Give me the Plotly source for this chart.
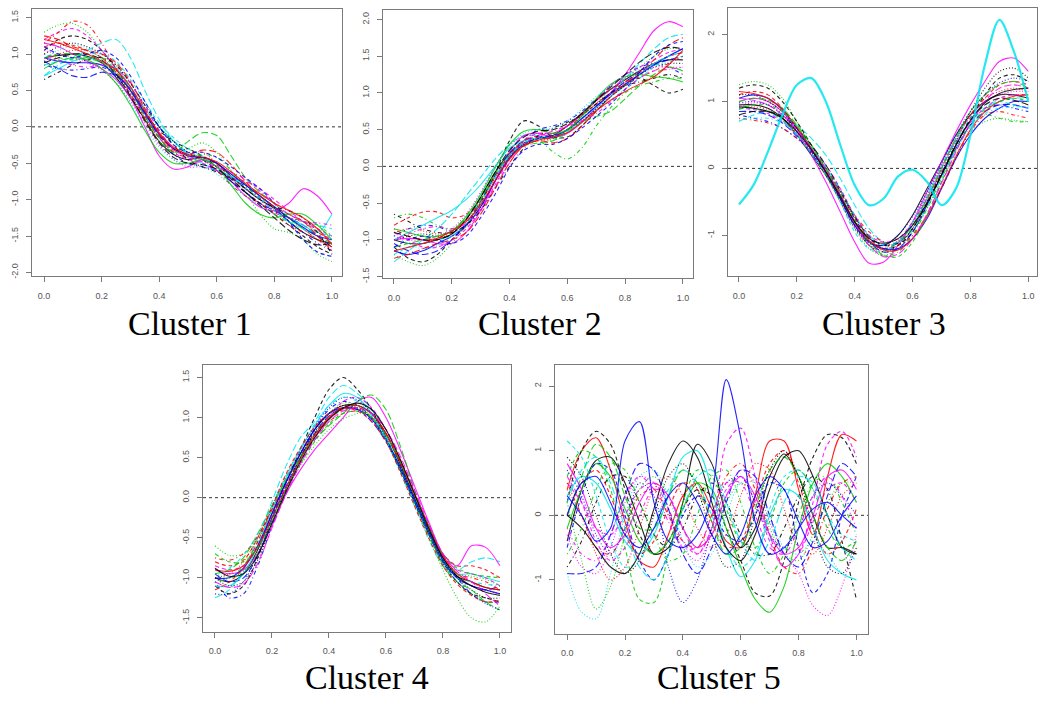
import plotly.graph_objects as go

# common x grid (t in [0, 1])
X = [0.00, 0.05, 0.10, 0.15, 0.20, 0.25, 0.30, 0.35, 0.40, 0.45, 0.50,
     0.55, 0.60, 0.65, 0.70, 0.75, 0.80, 0.85, 0.90, 0.95, 1.00]

x_ticks = [0.0, 0.2, 0.4, 0.6, 0.8, 1.0]
x_tick_labels = ["0.0", "0.2", "0.4", "0.6", "0.8", "1.0"]

captions = ["Cluster 1", "Cluster 2", "Cluster 3", "Cluster 4", "Cluster 5"]

# ---------------- Cluster 1 ----------------
cluster1 = [
    [0.95, 0.98, 1.00, 0.97, 0.88, 0.68, 0.40, 0.10, -0.20, -0.38, -0.45, -0.42, -0.50, -0.68, -0.85, -1.00, -1.12, -1.30, -1.45, -1.55, -1.60],
    [1.10, 1.15, 1.12, 1.05, 0.95, 0.75, 0.50, 0.20, -0.10, -0.30, -0.38, -0.40, -0.52, -0.70, -0.90, -1.05, -1.18, -1.25, -1.30, -1.45, -1.55],
    [1.30, 1.40, 1.42, 1.30, 1.05, 0.75, 0.42, 0.10, -0.20, -0.35, -0.30, -0.22, -0.35, -0.60, -0.90, -1.20, -1.40, -1.45, -1.55, -1.75, -1.85],
    [0.85, 0.80, 0.78, 0.80, 0.82, 0.70, 0.45, 0.15, -0.15, -0.38, -0.50, -0.55, -0.60, -0.70, -0.82, -0.98, -1.15, -1.30, -1.45, -1.60, -1.70],
    [0.70, 0.85, 0.95, 1.05, 1.15, 1.20, 0.95, 0.50, 0.10, -0.20, -0.35, -0.42, -0.55, -0.70, -0.80, -0.95, -1.10, -1.20, -1.30, -1.35, -1.40],
    [1.15, 1.10, 1.00, 0.90, 0.80, 0.65, 0.40, 0.00, -0.40, -0.58, -0.55, -0.45, -0.55, -0.75, -0.95, -1.10, -1.15, -1.05, -0.85, -0.95, -1.20],
    [1.05, 1.20, 1.25, 1.20, 1.05, 0.80, 0.50, 0.20, -0.05, -0.20, -0.30, -0.40, -0.55, -0.75, -0.90, -1.05, -1.20, -1.35, -1.50, -1.65, -1.75],
    [0.90, 1.00, 1.05, 1.05, 0.95, 0.75, 0.45, 0.12, -0.15, -0.30, -0.35, -0.35, -0.50, -0.65, -0.80, -0.95, -1.10, -1.25, -1.40, -1.55, -1.70],
    [1.00, 0.95, 0.92, 0.95, 0.95, 0.82, 0.55, 0.20, -0.12, -0.32, -0.40, -0.38, -0.42, -0.60, -0.80, -1.00, -1.20, -1.30, -1.30, -1.35, -1.50],
    [0.90, 0.80, 0.70, 0.68, 0.75, 0.70, 0.52, 0.20, -0.12, -0.30, -0.38, -0.45, -0.60, -0.75, -0.90, -1.05, -1.15, -1.25, -1.35, -1.50, -1.65],
    [0.70, 0.80, 0.90, 0.95, 0.90, 0.80, 0.55, 0.25, 0.00, -0.20, -0.38, -0.50, -0.60, -0.68, -0.80, -0.95, -1.10, -1.25, -1.35, -1.45, -1.20],
    [1.20, 1.30, 1.35, 1.25, 1.05, 0.80, 0.50, 0.15, -0.15, -0.35, -0.45, -0.50, -0.60, -0.70, -0.75, -0.85, -1.00, -1.15, -1.30, -1.40, -1.50],
    [1.00, 1.10, 1.15, 1.10, 1.00, 0.85, 0.60, 0.30, 0.00, -0.20, -0.35, -0.45, -0.55, -0.65, -0.80, -0.95, -1.10, -1.25, -1.40, -1.55, -1.65],
    [1.15, 1.30, 1.45, 1.40, 1.15, 0.80, 0.45, 0.12, -0.15, -0.35, -0.42, -0.45, -0.60, -0.80, -0.95, -1.05, -1.20, -1.35, -1.45, -1.55, -1.65],
    [0.95, 1.00, 1.00, 0.95, 0.88, 0.75, 0.50, 0.15, -0.15, -0.35, -0.20, -0.08, -0.12, -0.40, -0.70, -0.90, -1.05, -1.25, -1.40, -1.50, -1.60],
    [0.95, 0.90, 0.88, 0.88, 0.85, 0.72, 0.50, 0.18, -0.10, -0.30, -0.40, -0.42, -0.50, -0.65, -0.80, -0.95, -1.10, -1.25, -1.38, -1.50, -1.55],
    [0.85, 0.90, 0.95, 1.00, 1.00, 0.90, 0.65, 0.35, 0.05, -0.15, -0.30, -0.40, -0.55, -0.70, -0.85, -0.98, -1.15, -1.30, -1.40, -1.45, -1.50],
    [1.05, 1.00, 0.95, 0.88, 0.78, 0.60, 0.35, 0.05, -0.25, -0.45, -0.55, -0.55, -0.60, -0.70, -0.85, -1.00, -1.15, -1.25, -1.30, -1.40, -1.60],
    [0.65, 0.75, 0.85, 0.92, 0.95, 0.85, 0.60, 0.30, 0.00, -0.25, -0.45, -0.55, -0.62, -0.70, -0.85, -1.00, -1.10, -1.15, -1.25, -1.45, -1.75],
    [1.25, 1.20, 1.10, 1.05, 1.00, 0.88, 0.62, 0.25, -0.10, -0.32, -0.38, -0.32, -0.35, -0.52, -0.75, -0.95, -1.10, -1.20, -1.30, -1.50, -1.70],
    [0.80, 0.90, 0.95, 0.92, 0.80, 0.60, 0.30, -0.05, -0.35, -0.50, -0.50, -0.45, -0.55, -0.80, -1.05, -1.20, -1.25, -1.20, -1.20, -1.35, -1.55],
    [1.10, 1.00, 0.95, 1.00, 1.05, 0.95, 0.70, 0.35, 0.00, -0.25, -0.35, -0.35, -0.42, -0.55, -0.70, -0.85, -1.05, -1.30, -1.55, -1.72, -1.78],
    [0.95, 1.05, 1.12, 1.08, 0.92, 0.65, 0.32, 0.00, -0.28, -0.45, -0.52, -0.55, -0.65, -0.80, -0.95, -1.08, -1.20, -1.30, -1.35, -1.42, -1.55],
    [1.00, 0.92, 0.85, 0.82, 0.85, 0.80, 0.60, 0.28, -0.05, -0.30, -0.42, -0.48, -0.55, -0.62, -0.72, -0.88, -1.05, -1.20, -1.30, -1.32, -1.35],
    [0.88, 0.95, 1.00, 1.00, 0.92, 0.72, 0.42, 0.08, -0.22, -0.42, -0.50, -0.52, -0.58, -0.72, -0.90, -1.08, -1.25, -1.42, -1.55, -1.62, -1.60],
    [1.20, 1.15, 1.08, 1.00, 0.90, 0.78, 0.55, 0.22, -0.08, -0.28, -0.38, -0.42, -0.48, -0.62, -0.78, -0.92, -1.05, -1.15, -1.25, -1.40, -1.62],
]
cluster1_styles = ["k-", "r--", "g:", "b-.", "c__", "m-", "k--", "r:", "g-.", "b__",
                   "c-", "m--", "k:", "r-.", "g__", "b-", "c--", "m:", "k-.", "r__",
                   "g-", "b--", "c:", "m-.", "k__", "r-"]

# ---------------- Cluster 2 ----------------
cluster2 = [
    [-1.00, -1.05, -1.05, -1.00, -0.92, -0.72, -0.42, -0.08, 0.18, 0.32, 0.38, 0.42, 0.55, 0.72, 0.90, 1.05, 1.18, 1.30, 1.40, 1.45, 1.45],
    [-0.80, -0.70, -0.62, -0.62, -0.70, -0.65, -0.45, -0.12, 0.15, 0.35, 0.42, 0.45, 0.55, 0.70, 0.85, 1.00, 1.12, 1.25, 1.40, 1.50, 1.55],
    [-1.20, -1.30, -1.35, -1.25, -1.05, -0.80, -0.45, -0.10, 0.20, 0.35, 0.38, 0.35, 0.45, 0.65, 0.85, 1.05, 1.20, 1.35, 1.50, 1.60, 1.60],
    [-0.95, -0.85, -0.80, -0.82, -0.88, -0.80, -0.55, -0.20, 0.10, 0.35, 0.50, 0.55, 0.62, 0.75, 0.92, 1.10, 1.25, 1.35, 1.40, 1.35, 1.25],
    [-1.30, -1.15, -1.00, -0.85, -0.65, -0.40, -0.15, 0.10, 0.30, 0.42, 0.42, 0.38, 0.45, 0.60, 0.80, 1.00, 1.20, 1.40, 1.60, 1.75, 1.80],
    [-1.00, -0.98, -1.00, -1.05, -1.05, -0.90, -0.60, -0.20, 0.20, 0.42, 0.45, 0.40, 0.45, 0.60, 0.80, 1.00, 1.25, 1.55, 1.85, 1.97, 1.90],
    [-1.10, -1.25, -1.30, -1.20, -1.00, -0.80, -0.50, -0.10, 0.35, 0.62, 0.55, 0.40, 0.40, 0.55, 0.75, 0.95, 1.10, 1.20, 1.10, 1.00, 1.05],
    [-0.90, -0.85, -0.88, -0.92, -0.90, -0.75, -0.50, -0.15, 0.15, 0.30, 0.35, 0.38, 0.50, 0.68, 0.85, 1.00, 1.15, 1.28, 1.40, 1.50, 1.55],
    [-0.70, -0.65, -0.70, -0.80, -0.85, -0.70, -0.45, -0.15, 0.12, 0.30, 0.35, 0.20, 0.10, 0.25, 0.55, 0.80, 1.00, 1.10, 1.15, 1.20, 1.20],
    [-1.05, -1.15, -1.20, -1.15, -1.00, -0.78, -0.48, -0.12, 0.18, 0.35, 0.40, 0.42, 0.50, 0.65, 0.82, 1.00, 1.15, 1.28, 1.38, 1.45, 1.50],
    [-1.00, -0.90, -0.80, -0.70, -0.60, -0.45, -0.25, 0.00, 0.25, 0.35, 0.38, 0.40, 0.50, 0.65, 0.80, 0.95, 1.10, 1.25, 1.40, 1.50, 1.60],
    [-0.90, -1.00, -1.10, -1.10, -1.00, -0.85, -0.60, -0.25, 0.10, 0.35, 0.45, 0.45, 0.55, 0.70, 0.90, 1.10, 1.25, 1.35, 1.45, 1.55, 1.60],
    [-1.00, -0.95, -0.92, -0.95, -0.95, -0.82, -0.55, -0.20, 0.12, 0.30, 0.38, 0.40, 0.50, 0.62, 0.78, 0.95, 1.10, 1.25, 1.35, 1.40, 1.40],
    [-0.85, -0.95, -1.00, -0.98, -0.90, -0.72, -0.48, -0.15, 0.15, 0.35, 0.40, 0.38, 0.50, 0.70, 0.90, 1.05, 1.15, 1.22, 1.30, 1.40, 1.50],
    [-1.10, -1.05, -1.00, -0.95, -0.88, -0.70, -0.45, -0.10, 0.15, 0.28, 0.32, 0.35, 0.48, 0.60, 0.68, 0.75, 0.92, 1.10, 1.25, 1.35, 1.30],
    [-1.15, -1.20, -1.15, -1.05, -0.95, -0.80, -0.55, -0.20, 0.12, 0.30, 0.38, 0.40, 0.50, 0.65, 0.82, 0.98, 1.12, 1.25, 1.38, 1.50, 1.60],
    [-1.20, -1.10, -1.05, -1.00, -0.95, -0.78, -0.50, -0.15, 0.15, 0.32, 0.38, 0.40, 0.48, 0.60, 0.75, 0.90, 1.05, 1.20, 1.35, 1.50, 1.55],
    [-0.95, -1.00, -1.00, -0.95, -0.85, -0.65, -0.35, 0.00, 0.28, 0.42, 0.45, 0.45, 0.55, 0.70, 0.88, 1.05, 1.20, 1.30, 1.35, 1.35, 1.35],
    [-0.65, -0.75, -0.85, -0.90, -0.90, -0.80, -0.60, -0.30, 0.00, 0.25, 0.42, 0.52, 0.60, 0.70, 0.85, 1.00, 1.10, 1.15, 1.20, 1.25, 1.20],
    [-1.25, -1.20, -1.12, -1.05, -1.00, -0.90, -0.65, -0.30, 0.05, 0.28, 0.35, 0.32, 0.38, 0.55, 0.75, 0.95, 1.12, 1.28, 1.45, 1.65, 1.75],
    [-0.85, -0.90, -0.95, -0.95, -0.88, -0.68, -0.38, -0.02, 0.30, 0.48, 0.50, 0.45, 0.50, 0.68, 0.92, 1.12, 1.22, 1.25, 1.22, 1.20, 1.15],
    [-1.10, -1.00, -0.95, -1.00, -1.05, -0.95, -0.70, -0.38, -0.02, 0.22, 0.30, 0.30, 0.38, 0.52, 0.68, 0.85, 1.05, 1.28, 1.50, 1.65, 1.70],
    [-0.95, -1.05, -1.12, -1.08, -0.95, -0.70, -0.38, -0.02, 0.28, 0.45, 0.50, 0.52, 0.62, 0.78, 0.95, 1.10, 1.22, 1.32, 1.38, 1.42, 1.50],
    [-1.00, -0.92, -0.85, -0.82, -0.85, -0.78, -0.58, -0.28, 0.05, 0.30, 0.42, 0.48, 0.55, 0.62, 0.72, 0.88, 1.05, 1.20, 1.30, 1.32, 1.35],
    [-0.90, -0.95, -1.00, -1.00, -0.92, -0.72, -0.42, -0.08, 0.22, 0.40, 0.48, 0.50, 0.58, 0.72, 0.90, 1.08, 1.25, 1.42, 1.55, 1.62, 1.60],
    [-1.15, -1.10, -1.05, -0.98, -0.88, -0.75, -0.52, -0.20, 0.10, 0.28, 0.36, 0.40, 0.46, 0.60, 0.76, 0.90, 1.02, 1.12, 1.22, 1.38, 1.58],
]
cluster2_styles = ["k-", "r--", "g:", "b-.", "c__", "m-", "k--", "r:", "g-.", "b__",
                   "c-", "m--", "k:", "r-.", "g__", "b-", "c--", "m:", "k-.", "r__",
                   "g-", "b--", "c:", "m-.", "k__", "r-"]

# ---------------- Cluster 3 ----------------
cluster3 = [
    [0.95, 0.95, 0.90, 0.75, 0.50, 0.20, -0.10, -0.45, -0.85, -1.10, -1.15, -1.00, -0.70, -0.30, 0.10, 0.50, 0.80, 1.00, 1.10, 1.10, 1.05],
    [1.10, 1.15, 1.10, 0.90, 0.60, 0.30, 0.00, -0.35, -0.75, -1.05, -1.20, -1.15, -0.90, -0.50, 0.00, 0.45, 0.80, 1.05, 1.25, 1.30, 1.25],
    [1.25, 1.30, 1.25, 1.05, 0.70, 0.30, -0.10, -0.50, -0.90, -1.20, -1.30, -1.20, -0.95, -0.60, -0.20, 0.20, 0.55, 0.70, 0.75, 0.72, 0.70],
    [0.80, 0.75, 0.70, 0.60, 0.45, 0.25, 0.00, -0.35, -0.75, -1.05, -1.15, -1.10, -0.85, -0.50, -0.10, 0.35, 0.70, 0.90, 0.95, 0.90, 0.85],
    [0.70, 0.80, 0.85, 0.80, 0.65, 0.45, 0.20, -0.15, -0.55, -0.90, -1.10, -1.10, -0.85, -0.45, 0.00, 0.40, 0.70, 0.90, 1.00, 1.05, 1.05],
    [1.00, 1.05, 1.00, 0.85, 0.55, 0.20, -0.20, -0.65, -1.10, -1.42, -1.40, -1.15, -0.80, -0.35, 0.10, 0.55, 0.95, 1.30, 1.60, 1.65, 1.45],
    [1.20, 1.25, 1.20, 1.00, 0.70, 0.35, 0.00, -0.40, -0.80, -1.10, -1.20, -1.15, -0.95, -0.55, -0.10, 0.35, 0.75, 1.10, 1.35, 1.40, 1.30],
    [0.90, 0.92, 0.88, 0.75, 0.52, 0.22, -0.10, -0.50, -0.90, -1.15, -1.22, -1.10, -0.80, -0.40, 0.05, 0.45, 0.80, 1.05, 1.15, 1.20, 1.15],
    [0.95, 0.90, 0.85, 0.72, 0.50, 0.22, -0.08, -0.45, -0.85, -1.15, -1.30, -1.25, -1.00, -0.60, -0.15, 0.30, 0.65, 0.80, 0.75, 0.70, 0.70],
    [0.85, 0.85, 0.80, 0.68, 0.48, 0.22, -0.05, -0.40, -0.80, -1.10, -1.25, -1.20, -0.95, -0.55, -0.10, 0.30, 0.65, 0.85, 0.95, 0.95, 0.90],
    [0.90, 0.88, 0.82, 0.70, 0.50, 0.28, 0.05, -0.30, -0.70, -1.00, -1.10, -1.05, -0.80, -0.45, -0.05, 0.35, 0.70, 0.90, 1.05, 1.10, 1.10],
    [1.10, 1.10, 1.00, 0.85, 0.60, 0.30, -0.05, -0.45, -0.85, -1.15, -1.25, -1.15, -0.90, -0.50, -0.05, 0.40, 0.85, 1.20, 1.45, 1.50, 1.35],
    [0.75, 0.72, 0.68, 0.60, 0.45, 0.25, 0.00, -0.35, -0.70, -0.95, -1.10, -1.15, -1.00, -0.70, -0.30, 0.15, 0.55, 0.80, 0.85, 0.80, 0.75],
    [1.00, 1.05, 1.02, 0.90, 0.65, 0.35, 0.00, -0.40, -0.80, -1.10, -1.20, -1.10, -0.85, -0.45, 0.00, 0.45, 0.85, 1.10, 1.25, 1.30, 1.20],
    [1.05, 1.10, 1.05, 0.88, 0.60, 0.28, -0.05, -0.45, -0.85, -1.10, -1.20, -1.20, -1.05, -0.75, -0.30, 0.15, 0.50, 0.75, 0.90, 1.00, 1.00],
    [0.90, 0.90, 0.85, 0.72, 0.50, 0.22, -0.10, -0.50, -0.95, -1.20, -1.25, -1.10, -0.80, -0.40, 0.05, 0.45, 0.75, 0.95, 1.00, 0.95, 0.90],
    [0.95, 0.98, 0.95, 0.82, 0.58, 0.28, -0.05, -0.42, -0.82, -1.10, -1.18, -1.08, -0.82, -0.42, 0.02, 0.42, 0.78, 1.00, 1.10, 1.15, 1.15],
    [0.80, 0.85, 0.85, 0.78, 0.60, 0.35, 0.05, -0.32, -0.72, -1.02, -1.15, -1.12, -0.90, -0.52, -0.08, 0.35, 0.72, 0.95, 1.05, 1.02, 0.95],
    [1.15, 1.12, 1.05, 0.88, 0.62, 0.30, -0.05, -0.42, -0.80, -1.08, -1.22, -1.22, -1.05, -0.72, -0.28, 0.18, 0.58, 0.85, 1.00, 1.08, 1.10],
    [0.88, 0.95, 0.95, 0.85, 0.62, 0.32, 0.00, -0.38, -0.78, -1.10, -1.30, -1.32, -1.10, -0.70, -0.20, 0.28, 0.65, 0.88, 1.00, 1.05, 1.00],
    [0.98, 1.00, 0.95, 0.80, 0.55, 0.25, -0.08, -0.48, -0.88, -1.12, -1.15, -1.00, -0.72, -0.35, 0.08, 0.50, 0.85, 1.10, 1.28, 1.35, 1.30],
    [0.72, 0.75, 0.75, 0.68, 0.52, 0.30, 0.02, -0.32, -0.70, -1.00, -1.15, -1.12, -0.92, -0.58, -0.15, 0.28, 0.62, 0.82, 0.90, 0.92, 0.92],
    [1.05, 1.02, 0.95, 0.80, 0.58, 0.30, -0.02, -0.40, -0.82, -1.15, -1.32, -1.28, -1.05, -0.68, -0.22, 0.25, 0.68, 1.00, 1.20, 1.25, 1.20],
    [0.92, 0.90, 0.85, 0.75, 0.55, 0.28, -0.05, -0.42, -0.80, -1.05, -1.12, -1.05, -0.85, -0.52, -0.10, 0.35, 0.72, 0.98, 1.12, 1.18, 1.20],
    # outlying curve
    [-0.54, -0.25, 0.25, 0.80, 1.25, 1.35, 1.00, 0.35, -0.25, -0.55, -0.45, -0.12, -0.02, -0.20, -0.55, -0.30, 0.50, 1.55, 2.22, 1.75, 1.00],
]
cluster3_styles = ["k-", "r--", "g:", "b-.", "c__", "m-", "k--", "r:", "g-.", "b__",
                   "m--", "k:", "r-.", "g__", "b-", "c--", "m:", "k__", "r-", "g--",
                   "b:", "c-.", "m__", "k-", "c-"]

# ---------------- Cluster 4 ----------------
cluster4 = [
    [-1.00, -1.05, -0.95, -0.65, -0.20, 0.20, 0.55, 0.85, 1.05, 1.15, 1.15, 1.05, 0.80, 0.42, 0.00, -0.40, -0.75, -0.98, -1.05, -1.12, -1.15],
    [-0.80, -0.85, -0.78, -0.50, -0.12, 0.25, 0.55, 0.80, 0.98, 1.10, 1.12, 1.05, 0.80, 0.45, 0.05, -0.35, -0.70, -0.85, -0.85, -0.90, -1.00],
    [-0.60, -0.72, -0.70, -0.50, -0.20, 0.10, 0.40, 0.65, 0.85, 0.98, 1.05, 1.05, 0.85, 0.45, -0.05, -0.50, -0.90, -1.25, -1.50, -1.55, -1.35],
    [-1.05, -1.25, -1.20, -0.85, -0.35, 0.10, 0.50, 0.85, 1.10, 1.20, 1.15, 1.00, 0.75, 0.40, 0.00, -0.40, -0.75, -1.00, -1.20, -1.30, -1.30],
    [-1.25, -1.15, -0.90, -0.50, -0.05, 0.40, 0.75, 0.95, 1.25, 1.40, 1.30, 1.10, 0.75, 0.35, -0.05, -0.45, -0.80, -0.90, -0.80, -0.75, -0.80],
    [-0.90, -0.95, -0.90, -0.70, -0.35, 0.05, 0.35, 0.60, 0.80, 1.00, 1.20, 1.25, 1.00, 0.60, 0.15, -0.30, -0.70, -0.85, -0.60, -0.62, -0.85],
    [-1.10, -1.20, -1.10, -0.75, -0.25, 0.20, 0.60, 1.00, 1.35, 1.50, 1.35, 1.10, 0.75, 0.35, -0.05, -0.45, -0.80, -1.05, -1.20, -1.25, -1.30],
    [-1.00, -0.95, -0.80, -0.50, -0.10, 0.28, 0.60, 0.88, 1.05, 1.15, 1.12, 1.00, 0.78, 0.42, 0.02, -0.38, -0.72, -0.95, -1.05, -1.15, -1.20],
    [-1.05, -1.00, -0.85, -0.55, -0.15, 0.22, 0.52, 0.78, 0.98, 1.10, 1.10, 1.00, 0.72, 0.35, -0.08, -0.48, -0.82, -1.05, -1.20, -1.30, -1.30],
    [-0.95, -1.05, -1.00, -0.72, -0.28, 0.15, 0.50, 0.80, 1.02, 1.12, 1.10, 0.95, 0.70, 0.35, -0.05, -0.45, -0.80, -1.00, -1.10, -1.15, -1.10],
    [-1.10, -1.10, -0.95, -0.60, -0.15, 0.25, 0.60, 0.90, 1.15, 1.30, 1.25, 1.05, 0.75, 0.38, -0.02, -0.42, -0.78, -0.95, -0.95, -1.00, -1.05],
    [-0.85, -0.90, -0.85, -0.60, -0.20, 0.15, 0.45, 0.75, 1.00, 1.20, 1.25, 1.12, 0.85, 0.48, 0.08, -0.35, -0.72, -0.90, -0.95, -1.00, -1.10],
    [-1.00, -1.10, -1.05, -0.78, -0.32, 0.12, 0.50, 0.82, 1.05, 1.15, 1.12, 0.98, 0.72, 0.38, -0.02, -0.42, -0.78, -1.00, -1.15, -1.25, -1.25],
    [-0.75, -0.78, -0.70, -0.48, -0.15, 0.20, 0.50, 0.75, 0.95, 1.05, 1.08, 1.00, 0.80, 0.45, 0.05, -0.38, -0.75, -0.95, -1.00, -1.05, -1.15],
    [-0.95, -0.90, -0.75, -0.45, -0.10, 0.22, 0.50, 0.72, 0.90, 1.05, 1.20, 1.28, 1.10, 0.65, 0.10, -0.40, -0.85, -1.05, -1.15, -1.30, -1.40],
    [-1.00, -1.00, -0.88, -0.60, -0.20, 0.20, 0.55, 0.85, 1.05, 1.12, 1.10, 0.98, 0.72, 0.38, -0.02, -0.42, -0.78, -1.00, -1.10, -1.15, -1.20],
    [-0.90, -0.92, -0.85, -0.62, -0.25, 0.12, 0.48, 0.78, 1.00, 1.12, 1.15, 1.05, 0.80, 0.45, 0.05, -0.35, -0.72, -0.95, -1.05, -1.12, -1.15],
    [-0.70, -0.80, -0.80, -0.62, -0.30, 0.08, 0.42, 0.70, 0.92, 1.05, 1.08, 1.00, 0.78, 0.45, 0.05, -0.35, -0.70, -0.88, -0.95, -0.98, -1.00],
    [-1.20, -1.20, -1.05, -0.70, -0.25, 0.18, 0.55, 0.88, 1.12, 1.25, 1.22, 1.05, 0.75, 0.35, -0.05, -0.45, -0.82, -1.05, -1.20, -1.32, -1.40],
    [-0.95, -0.88, -0.72, -0.45, -0.10, 0.28, 0.62, 0.92, 1.15, 1.25, 1.20, 1.02, 0.72, 0.32, -0.10, -0.52, -0.85, -1.00, -1.05, -1.08, -1.10],
    [-1.05, -1.12, -1.08, -0.82, -0.38, 0.05, 0.42, 0.72, 0.95, 1.08, 1.12, 1.05, 0.85, 0.52, 0.10, -0.32, -0.70, -0.92, -1.05, -1.20, -1.35],
    [-0.88, -0.98, -0.95, -0.72, -0.32, 0.08, 0.45, 0.75, 0.98, 1.12, 1.18, 1.10, 0.85, 0.48, 0.05, -0.38, -0.75, -0.98, -1.10, -1.18, -1.22],
    [-1.15, -1.05, -0.88, -0.55, -0.12, 0.30, 0.62, 0.88, 1.05, 1.12, 1.08, 0.95, 0.70, 0.32, -0.10, -0.50, -0.85, -1.08, -1.22, -1.30, -1.28],
    [-0.95, -1.00, -0.92, -0.68, -0.28, 0.12, 0.48, 0.80, 1.05, 1.18, 1.15, 1.00, 0.72, 0.35, -0.05, -0.45, -0.80, -0.95, -0.98, -1.02, -1.10],
]
cluster4_styles = ["k-", "r--", "g:", "b-.", "c__", "m-", "k--", "r:", "g-.", "b__",
                   "c-", "m--", "k:", "r-.", "g__", "b-", "r-", "g--", "b:", "c-.",
                   "m__", "k-", "r--", "g:"]

# ---------------- Cluster 5 ----------------
cluster5 = [
    [0.60, 0.20, -0.40, -0.70, -0.50, 0.00, 0.40, 0.30, -0.20, -0.60, -0.20, 1.10, 1.35, 0.60, -0.30, -0.80, -0.60, -0.10, 0.40, 0.50, 0.20],
    [0.40, 1.00, 1.20, 0.70, -0.10, -0.70, -0.80, -0.30, 0.30, 0.50, 0.10, -0.40, -0.50, 0.30, 1.15, 1.15, 0.40, -0.30, 0.60, 1.25, 1.15],
    [0.20, 1.00, 1.30, 1.10, 0.40, -0.30, -0.60, -0.40, 0.10, 0.40, 0.30, -0.20, -0.70, -1.20, -1.25, -0.70, 0.20, 0.90, 1.25, 1.20, 0.80],
    [-0.40, 0.40, 0.85, 0.90, 0.50, -0.10, -0.60, -0.50, 0.20, 1.10, 0.80, 0.00, -0.50, -0.20, 0.60, 0.95, 0.60, 0.00, -0.50, -0.50, -0.60],
    [-0.20, 0.40, 0.80, 0.60, 0.10, -0.40, -0.60, -0.40, 0.10, 0.50, 0.40, -0.20, -0.80, -1.30, -1.50, -1.10, -0.20, 0.50, 0.80, 0.60, 0.20],
    [0.60, 1.00, 0.90, 0.40, -0.50, -1.30, -1.35, -0.60, 0.20, 0.70, 0.60, 0.10, -0.40, -0.50, -0.10, 0.50, 0.70, 0.40, -0.20, -0.50, -0.40],
    [-0.90, -1.50, -1.60, -0.90, 0.00, 0.60, 0.70, 0.30, -0.40, -0.80, -0.60, 0.00, 0.50, 0.50, 0.00, -0.50, -0.60, -0.40, -0.60, -0.90, -1.00],
    [1.15, 0.90, 0.30, -0.40, -0.80, -0.70, -0.20, 0.40, 0.70, 0.50, 0.00, -0.50, -0.80, -0.60, 0.10, 0.60, 0.70, 0.40, 0.00, -0.30, -0.40],
    [0.50, 0.20, -0.20, -0.30, 0.00, 0.40, 0.50, 0.10, -0.40, -0.60, -0.20, 0.40, 0.60, 0.20, -0.40, -0.80, -0.60, 0.20, 1.10, 1.30, 0.90],
    [-0.30, -0.80, -0.90, -0.50, 0.20, 0.60, 0.50, 0.00, -0.50, -0.70, -0.30, 0.30, 0.70, 0.50, -0.10, -0.60, -0.90, -1.40, -1.55, -1.10, -0.30],
    [0.70, 0.30, -0.30, -0.60, -0.20, 0.50, 0.30, -0.80, -1.35, -1.00, -0.20, 0.50, 0.60, 0.20, -0.30, -0.50, -0.20, 0.30, 0.50, 0.30, 0.00],
    [0.00, 0.50, 0.70, 0.30, -0.30, -0.60, -0.40, 0.10, 0.50, 0.40, -0.10, -0.50, -0.40, 0.20, 0.80, 1.00, 0.50, -0.20, -0.60, -0.40, 0.10],
    [-0.80, -0.40, 0.20, 0.60, 0.60, 0.20, -0.30, -0.50, -0.20, 0.30, 0.50, 0.20, -0.30, -0.60, -0.60, -0.20, 0.30, 0.60, 0.40, -0.40, -1.30],
    [0.20, -0.70, -1.45, -1.10, -0.30, 0.40, 0.60, 0.30, -0.20, -0.50, -0.30, 0.20, 0.50, 0.30, -0.20, -0.60, -0.70, -0.30, 0.20, 0.50, 0.50],
    [-0.90, -0.90, -0.80, -0.30, 0.30, 0.80, 0.70, 0.10, -0.60, -0.90, -0.50, 0.20, 0.70, 0.60, 0.00, -0.60, -0.80, -0.40, 0.30, 0.80, 0.60],
    [0.50, 0.00, -0.50, -0.60, -0.20, 0.30, 0.40, 0.00, -0.40, -0.50, 0.00, 0.60, 0.80, 0.40, -0.30, -0.80, -0.90, -0.50, 0.10, 0.50, 0.60],
    [0.30, 0.60, 0.50, 0.10, -0.40, -0.60, -0.30, 0.30, 0.90, 1.00, 0.40, -0.50, -0.95, -0.70, 0.00, 0.40, 0.30, -0.20, -0.70, -0.90, -1.00],
    [0.00, 0.60, 1.10, 0.90, 0.30, -0.20, -0.20, 0.30, 0.70, 0.50, -0.10, -0.60, -0.50, 0.10, 0.70, 0.90, 0.60, 0.00, -0.50, -0.70, -0.40],
    [0.00, -0.20, -0.50, -0.80, -0.90, -0.60, 0.10, 0.80, 1.15, 0.90, 0.20, -0.50, -0.70, -0.30, 0.40, 0.90, 1.00, 0.60, 0.00, -0.50, -0.60],
    [0.80, 0.40, -0.20, -0.50, -0.30, 0.20, 0.50, 0.30, -0.20, -0.50, -0.30, 0.30, 0.60, 0.30, -0.30, -0.60, -0.50, 0.00, 0.60, 0.70, 0.40],
    [-0.50, 0.30, 0.80, 0.70, 0.00, -0.70, -1.00, -0.60, 0.00, 0.30, 0.10, -0.30, -0.40, 0.00, 0.50, 0.40, -0.50, -1.20, -0.90, 0.00, 0.60],
    [0.40, 0.00, -0.60, -1.00, -0.80, -0.20, 0.40, 0.60, 0.30, -0.20, -0.50, -0.30, 0.30, 0.80, 0.70, 0.10, -0.50, -0.60, -0.20, 0.30, 0.50],
    [-0.60, -0.20, 0.40, 0.80, 0.70, 0.20, -0.30, -0.70, -0.60, 0.00, 0.60, 0.70, 0.20, -0.50, -0.90, -0.60, 0.00, 0.50, 0.60, 0.20, -0.30],
    [0.00, 0.50, 0.60, 0.20, -0.30, -0.50, -0.20, 0.30, 0.50, 0.20, -0.30, -0.60, -0.30, 0.30, 0.60, 0.40, -0.10, -0.50, -0.40, 0.00, 0.30],
    [0.90, 0.60, 0.00, -0.60, -0.90, -0.70, 0.00, 0.60, 0.80, 0.40, -0.30, -0.80, -0.70, 0.00, 0.70, 1.00, 0.60, -0.20, -0.80, -0.90, -0.50],
    [-0.20, -0.60, -0.70, -0.30, 0.30, 0.60, 0.40, -0.10, -0.50, -0.50, 0.00, 0.50, 0.50, 0.00, -0.50, -0.60, -0.20, 0.30, 0.60, 0.30, -0.20],
    [0.20, 0.70, 0.90, 0.50, -0.20, -0.80, -1.00, -0.60, 0.10, 0.60, 0.70, 0.20, -0.40, -0.70, -0.40, 0.20, 0.60, 0.50, 0.00, -0.50, -0.70],
    [0.30, 0.00, -0.40, -0.20, 1.15, 1.45, 0.20, -0.40, -0.50, -0.30, 0.30, 2.10, 1.20, -0.10, -0.60, -0.50, -0.20, 0.10, 0.20, 0.00, -0.20],
]
cluster5_styles = ["m--", "r-", "k--", "k-", "g-", "g--", "c:", "c--", "m--", "m:",
                   "b:", "r--", "k-.", "g:", "b__", "r-.", "c-", "g__", "k-", "m-",
                   "b--", "r:", "g-.", "b-", "k:", "m-.", "c__", "b-"]

# ---------------- styling ----------------
COLORS = {"k": "#000000", "r": "#FF0000", "g": "#00CD00", "b": "#0000FF",
          "c": "#00E5EE", "m": "#FF00FF"}
DASHES = {"-": "solid", "--": "4px,3px", ":": "1px,2px", "-.": "1px,3px,4px,3px", "__": "7px,3px"}

W, H = 1040, 713

panels = [
    dict(data=cluster1, styles=cluster1_styles, box=(32, 342, 9, 278),
         xr=[-0.042, 1.035], yr=[-2.05, 1.62],
         yt=[-2.0, -1.5, -1.0, -0.5, 0.0, 0.5, 1.0, 1.5], yfmt="{:.1f}", cap=(190, 326)),
    dict(data=cluster2, styles=cluster2_styles, box=(383, 693, 10, 280),
         xr=[-0.038, 1.035], yr=[-1.52, 2.13],
         yt=[-1.5, -1.0, -0.5, 0.0, 0.5, 1.0, 1.5, 2.0], yfmt="{:.1f}", cap=(540, 326)),
    dict(data=cluster3, styles=cluster3_styles, box=(728, 1037, 8, 278),
         xr=[-0.038, 1.03], yr=[-1.61, 2.40],
         yt=[-1, 0, 1, 2], yfmt="{:d}", cap=(884, 326)),
    dict(data=cluster4, styles=cluster4_styles, box=(203, 511, 368, 636),
         xr=[-0.042, 1.039], yr=[-1.67, 1.65],
         yt=[-1.5, -1.0, -0.5, 0.0, 0.5, 1.0, 1.5], yfmt="{:.1f}", cap=(367, 682)),
    dict(data=cluster5, styles=cluster5_styles, box=(555, 868, 368, 638),
         xr=[-0.042, 1.04], yr=[-1.83, 2.32],
         yt=[-1, 0, 1, 2], yfmt="{:d}", cap=(719, 682)),
]

fig = go.Figure()
shapes = []
annotations = []
layout_axes = {}

for i, p in enumerate(panels):
    n = "" if i == 0 else str(i + 1)
    xa, ya = "x" + n, "y" + n
    last = len(p["data"]) - 1
    for j, (vals, st) in enumerate(zip(p["data"], p["styles"])):
        color = COLORS[st[0]]
        dash = DASHES[st[1:]]
        width = 2.2 if (i == 2 and j == last) else 1.1
        fig.add_trace(go.Scatter(
            x=X, y=vals, mode="lines", xaxis=xa, yaxis=ya,
            line=dict(color=color, dash=dash, width=width, shape="spline", smoothing=0.9),
            opacity=0.85, showlegend=False, hoverinfo="skip"))
    l, r, t, b = p["box"]
    axis_common = dict(showline=True, mirror=True, linecolor="#7a7a7a", linewidth=1,
                       ticks="outside", ticklen=5, tickcolor="#7a7a7a", tickwidth=1,
                       showgrid=False, zeroline=False,
                       tickfont=dict(family="Liberation Sans, Arial", size=9, color="#555555"))
    layout_axes["xaxis" + n] = dict(domain=[l / W, r / W], anchor=ya, range=p["xr"],
                                    tickvals=x_ticks, ticktext=x_tick_labels,
                                    ticklabelstandoff=6, **axis_common)
    layout_axes["yaxis" + n] = dict(domain=[1 - b / H, 1 - t / H], anchor=xa, range=p["yr"],
                                    tickvals=p["yt"],
                                    ticktext=[p["yfmt"].format(v) for v in p["yt"]],
                                    tickangle=-90, ticklabelstandoff=4, **axis_common)
    shapes.append(dict(type="line", xref=xa + " domain", yref=ya, x0=0, x1=1, y0=0, y1=0,
                       line=dict(color="#333333", width=1, dash="3px,3px"), layer="below"))
    cx, cy = p["cap"]
    annotations.append(dict(text=captions[i], x=cx / W, y=1 - cy / H, xref="paper", yref="paper",
                            xanchor="center", yanchor="middle", showarrow=False,
                            font=dict(family="Liberation Serif, Times New Roman", size=34,
                                      color="#000000")))

fig.update_layout(width=W, height=H, margin=dict(l=0, r=0, t=0, b=0),
                  paper_bgcolor="white", plot_bgcolor="white",
                  shapes=shapes, annotations=annotations, **layout_axes)

fig.write_html("out.html")
